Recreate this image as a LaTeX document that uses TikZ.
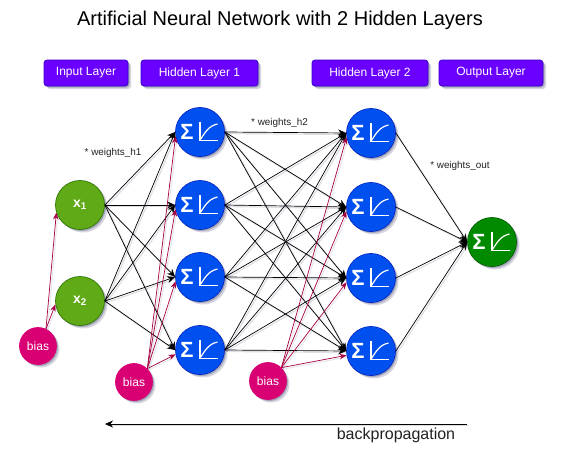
\documentclass[tikz,border=0pt]{standalone}
\usepackage{fontspec}
\setmainfont{Liberation Sans}
\usetikzlibrary{arrows.meta,shadows}
\definecolor{cgreen}{HTML}{60A917}\definecolor{cgreenS}{HTML}{2D7600}
\definecolor{cblue}{HTML}{0050EF}\definecolor{cblueS}{HTML}{001DBC}
\definecolor{cpink}{HTML}{D80073}\definecolor{cpinkS}{HTML}{A50040}
\definecolor{cout}{HTML}{008A00}\definecolor{coutS}{HTML}{005700}
\definecolor{cviolet}{HTML}{6A00FF}\definecolor{cvioletS}{HTML}{3700CC}
\definecolor{shade}{HTML}{5A5F80}
\definecolor{txtdark}{HTML}{222222}
\tikzset{
 softshadow/.style={
   drop shadow={shadow xshift=3pt,shadow yshift=-3pt,fill=shade,opacity=.25},
   drop shadow={shadow xshift=1.5pt,shadow yshift=-1.5pt,fill=shade,opacity=.4}},
 neuron/.style={circle,minimum size=49pt,inner sep=0pt,line width=.7pt,softshadow},
 inputn/.style={neuron,fill=cgreen,draw=cgreenS,text=white,font=\fontsize{14}{16}\selectfont\bfseries},
 hiddenn/.style={neuron,fill=cblue,draw=cblueS},
 outn/.style={neuron,fill=cout,draw=coutS},
 biasn/.style={circle,minimum size=37pt,inner sep=0pt,line width=.7pt,fill=cpink,draw=cpink,text=white,font=\fontsize{12}{14}\selectfont,softshadow},
 layerbox/.style={rounded corners=3pt,fill=cviolet,draw=cvioletS,line width=.7pt,text=white,minimum height=26pt,inner sep=0pt,font=\fontsize{12}{14}\selectfont,softshadow},
 caption/.style={inner sep=0pt,text=txtdark,font=\fontsize{9.9}{11}\selectfont},
 wire/.style={line width=.7pt,draw=black,-{Stealth[length=8pt,width=7pt]},
   preaction={draw=shade,draw opacity=.2,line width=1.2pt,-,transform canvas={shift={(1.5pt,-1.5pt)}}}},
 redwire/.style={line width=.7pt,draw=cpinkS,-{Stealth[length=7pt,width=5.5pt]},
   preaction={draw=shade,draw opacity=.15,line width=1pt,-,transform canvas={shift={(1.5pt,-1.5pt)}}}},
 pics/activation/.style={code={
   \node[white,inner sep=0pt,font=\fontsize{22}{24}\selectfont\bfseries] at (-13,0) {Σ};
   \draw[white,line width=1.2pt,line join=miter] (0,-10)--(0,8.7)--(18,8.7);
   \draw[white,line width=1.2pt] (0,8) .. controls (5,1) and (8,-6) .. (17.5,-8);
 }},
}
\begin{document}
\begin{tikzpicture}[x=1pt,y=-1pt]
\useasboundingbox[fill=white] (0,0) rectangle (570,463);
% title
\node[inner sep=0pt,font=\fontsize{20}{22}\selectfont] (title) at (280,20) {Artificial Neural Network with 2 Hidden Layers};
% layer labels
\node[layerbox,minimum width=84pt] (l0) at (86,73) {\raisebox{-1pt}{Input Layer}};
\node[layerbox,minimum width=117pt] (l1) at (199.5,73) {\raisebox{-1pt}{Hidden Layer 1}};
\node[layerbox,minimum width=116pt] (l2) at (370,73) {\raisebox{-1pt}{Hidden Layer 2}};
\node[layerbox,minimum width=104pt] (l3) at (491,73) {\raisebox{-1pt}{Output Layer}};
% coordinates of neurons
\coordinate (pa1) at (200,132);\coordinate (pa2) at (200,205);\coordinate (pa3) at (200,277);\coordinate (pa4) at (200,350);
\coordinate (pb1) at (371,133);\coordinate (pb2) at (371,207);\coordinate (pb3) at (371,278);\coordinate (pb4) at (371,351);
% neurons
\node[inputn] (x1) at (80,205) {x\textsubscript{1}};
\node[inputn] (x2) at (80,301) {x\textsubscript{2}};
\foreach \i in {1,2,3,4}{
  \node[hiddenn] (a\i) at (pa\i) {};
  \node[hiddenn] (b\i) at (pb\i) {};
}
\node[outn] (o) at (492,242) {};
\node[biasn] (s1) at (38,346) {bias};
\node[biasn] (s2) at (134,382) {bias};
\node[biasn] (s3) at (268,381) {bias};
% connectors
\foreach \s in {x1,x2}\foreach \t in {a1,a2,a3,a4}{\draw[wire] (\s.east) -- (\t.west);}
\foreach \s in {a1,a2,a3,a4}\foreach \t in {b1,b2,b3,b4}{\draw[wire] (\s.east) -- (\t.west);}
\foreach \s in {b1,b2,b3,b4}{\draw[wire] (\s.east) -- (o.west);}
\draw[redwire] (s1.65) -- (x1.198);
\draw[redwire] (s1.65) -- (x2.188);
\foreach \t in {a1,a2,a3,a4}{\draw[redwire] (s2.45) -- (\t.190);}
\foreach \t in {b1,b2,b3,b4}{\draw[redwire] (s3.45) -- (\t.190);}
% redraw node faces above the wires
\foreach \i in {1,2,3,4}{
  \fill[cblue] (pa\i) circle (24pt);
  \fill[cblue] (pb\i) circle (24pt);
  \pic at (pa\i) {activation};
  \pic at (pb\i) {activation};
}
\fill[cout] (492,242) circle (24pt);
\pic at (492,242) {activation};
% captions
\node[caption] (c1) at (113,153) {* weights\_h1};
\node[caption] (c2) at (279.5,123) {* weights\_h2};
\node[caption] (c3) at (460,166) {* weights\_out};
% backpropagation
\coordinate (bpa) at (467,424);
\coordinate (bpb) at (105,424);
\draw[wire] (bpa) -- (bpb);
\node[inner sep=0pt,text=txtdark,font=\fontsize{16}{18}\selectfont] (bp) at (396,435.5) {backpropagation};
\end{tikzpicture}
\end{document}
